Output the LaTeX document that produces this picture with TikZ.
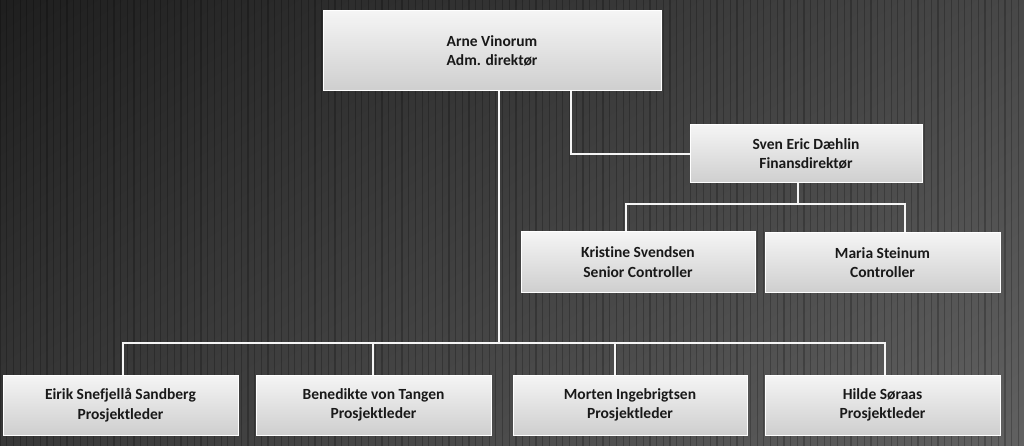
\documentclass[tikz,border=0pt]{standalone}
\usepackage{fontspec}
\setmainfont{Carlito}[Ligatures=NoCommon]
\usetikzlibrary{shadings}
\begin{document}
\begin{tikzpicture}[x=1pt,y=-1pt,
  box/.style={draw=white, line width=1pt, top color=gray!8, bottom color=gray!38,
    inner sep=0pt, align=center, text=black!90,
    font=\bfseries\fontsize{15.5}{19.5}\selectfont},
  link/.style={draw=white!92!gray, line width=1.6pt}]
\useasboundingbox (0,0) rectangle (1024,446);
\shade[upper left=black!88, upper right=black!72, lower left=black!78, lower right=black!62]
  (0,0) rectangle (1024,446);
\draw[black, opacity=0.22, line width=1.2pt, step=6.7] (0,0) grid (1024,446);

\node[box, minimum width=338pt, minimum height=80pt] (top) at (492,51) {Arne Vinorum\\Adm. direktør};
\node[box, minimum width=232pt, minimum height=58pt] (sven) at (806,154) {Sven Eric Dæhlin\\Finansdirektør};
\node[box, minimum width=234pt, minimum height=60pt] (kris) at (638,262) {Kristine Svendsen\\Senior Controller};
\node[box, minimum width=235pt, minimum height=59pt] (maria) at (882.5,262.5) {Maria Steinum\\Controller};
\node[box, minimum width=235pt, minimum height=60pt] (eirik) at (120.5,405) {Eirik Snefjellå Sandberg\\Prosjektleder};
\node[box, minimum width=235pt, minimum height=60pt] (bene) at (373.5,405) {Benedikte von Tangen\\Prosjektleder};
\node[box, minimum width=234pt, minimum height=60pt] (mort) at (630,405) {Morten Ingebrigtsen\\Prosjektleder};
\node[box, minimum width=235pt, minimum height=60pt] (hilde) at (882.5,405) {Hilde Søraas\\Prosjektleder};

\coordinate (bus) at (499,343);
\coordinate (b1) at (123,343);
\coordinate (b2) at (373,343);
\coordinate (b3) at (615,343);
\coordinate (b4) at (885,343);
\coordinate (s0) at (798,204);
\coordinate (s1) at (626,204);
\coordinate (s2) at (905,204);

\draw[link] ([xshift=79pt]top.south) |- (sven.west);
\draw[link] ([xshift=7pt]top.south) -- (bus);
\draw[link] (b1 |- eirik.north) -- (b1) -- (b4) -- (b4 |- hilde.north);
\draw[link] (b2) -- (b2 |- bene.north);
\draw[link] (b3) -- (b3 |- mort.north);
\draw[link] (s0 |- sven.south) -- (s0);
\draw[link] (s1 |- kris.north) -- (s1) -- (s2) -- (s2 |- maria.north);
\end{tikzpicture}
\end{document}
